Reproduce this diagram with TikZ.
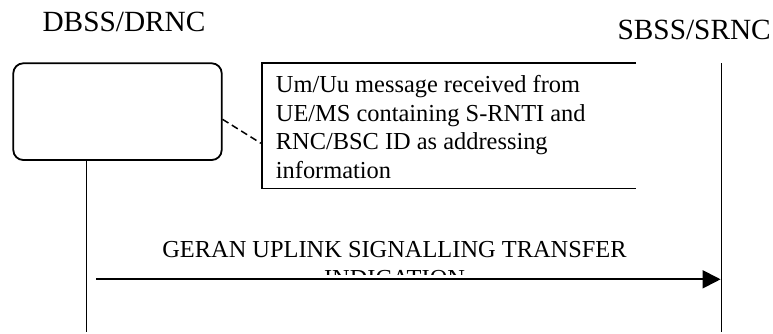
\documentclass[tikz,border=0pt]{standalone}
\usepackage{fontspec}
\setmainfont{Liberation Serif}
\usetikzlibrary{arrows.meta}
\tikzset{
  line/.style={line width=1.8pt},
  hdr/.style={font=\fontsize{29.3}{34}\selectfont, inner sep=0pt, anchor=base},
  body/.style={font=\fontsize{24.4}{28.5}\selectfont, inner sep=0pt},
  procbox/.style={line, draw, rounded corners=10pt, minimum width=208.4pt, minimum height=96.7pt, inner sep=0pt},
  msgarrow/.style={line, -{Triangle[length=18pt,width=18pt]}},
  dashlink/.style={line width=1.5pt, dash pattern=on 7pt off 4pt}
}
\begin{document}
\begin{tikzpicture}[x=1pt,y=-1pt]
\useasboundingbox (0,0) rectangle (773,333);
% headers
\node[hdr] (hD) at (124,31.7) {DBSS/DRNC};
\node[hdr] (hS) at (694.2,39.3) {SBSS/SRNC};
% process box
\node[procbox] (box) at (117.5,111.65) {};
% lifelines
\coordinate (lb) at (86.5,331.7);
\coordinate (rt) at (721.5,63.3);
\coordinate (rb) at (721.5,331.7);
\draw[line] (lb |- box.south) -- (lb);
\draw[line] (rt) -- (rb);
% note
\coordinate (nnw) at (261.7,63.3);
\coordinate (nne) at (636,63.3);
\coordinate (nsw) at (261.7,188.5);
\coordinate (nse) at (636,188.5);
\draw[line] (nne) -- (nnw) -- (nsw) -- (nse);
\node[body, align=left, anchor=base west] (note) at (275.7,178.3)
  {Um/Uu message received from\\UE/MS containing S-RNTI and\\RNC/BSC ID as addressing\\information};
% dashed link
\coordinate (d1) at (222.5,119.3);
\coordinate (d2) at (261,143.3);
\draw[dashlink] (d1) -- (d2);
% message
\coordinate (as) at (96,279.3);
\coordinate (ae) at (720.6,279.3);
\draw[msgarrow] (as) -- (ae);
\begin{scope}
\clip (0,0) rectangle (773,274.5);
\node[body, align=center, anchor=base] (lbl) at (394.5,286)
  {GERAN UPLINK SIGNALLING TRANSFER\\INDICATION};
\end{scope}
\end{tikzpicture}
\end{document}
